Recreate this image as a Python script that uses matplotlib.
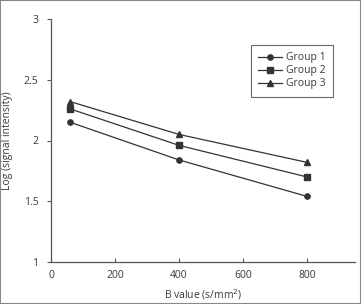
import matplotlib
matplotlib.use("Agg")
import matplotlib.pyplot as plt
from matplotlib.patches import Rectangle

b_values = [60, 400, 800]
group1 = [2.15, 1.84, 1.54]
group2 = [2.26, 1.96, 1.70]
group3 = [2.32, 2.05, 1.82]
labels = ["Group 1", "Group 2", "Group 3"]
xticks = [0, 200, 400, 600, 800]
yticks = [1, 1.5, 2, 2.5, 3]
yticklabels = ["1", "1.5", "2", "2.5", "3"]

plt.rcParams['font.family'] = ['Open Sans', 'DejaVu Sans']
tc = '#3a3a3a'
fig = plt.figure(figsize=(3.61, 3.04), dpi=100)
ax = fig.add_axes([51/361, 1-262/304, (355-51)/361, (262-19)/304])

for ys, m, lab in zip([group1, group2, group3], ['o', 's', '^'], labels):
    ax.plot(b_values, ys, color='#333333', lw=0.9, marker=m, ms=3.8, label=lab)

ax.set_xlim(0, 950)
ax.set_ylim(1, 3)
ax.set_xticks(xticks)
ax.set_yticks(yticks)
ax.set_yticklabels(yticklabels)
for s in ['top', 'right']:
    ax.spines[s].set_visible(False)
for s in ['left', 'bottom']:
    ax.spines[s].set_color('#555555')
    ax.spines[s].set_linewidth(0.9)
ax.tick_params(axis='x', direction='in', length=3, colors='#555555', labelcolor=tc, labelsize=7.5, pad=6)
ax.tick_params(axis='y', direction='out', length=3, colors='#555555', labelcolor=tc, labelsize=7.5, pad=6)
ax.set_xlabel("B value (s/mm$^2$)", fontsize=7.5, color=tc, labelpad=4)
ax.set_ylabel("Log (signal intensity)", fontsize=7.5, color=tc, labelpad=8)

leg = ax.legend(loc='upper left', bbox_to_anchor=((251-51)/304, (262-45)/243),
                borderaxespad=0,
                fontsize=7.5, frameon=True, fancybox=False, edgecolor='#444444',
                handlelength=2.3, handletextpad=0.4, labelspacing=0.2, borderpad=0.7)
leg.get_frame().set_linewidth(0.8)
for t in leg.get_texts():
    t.set_color(tc)

fig.patches.append(Rectangle((0, 0), 1, 1, transform=fig.transFigure, fill=False,
                             edgecolor='#888888', lw=1.5))
fig.savefig("out.png", dpi=100)
